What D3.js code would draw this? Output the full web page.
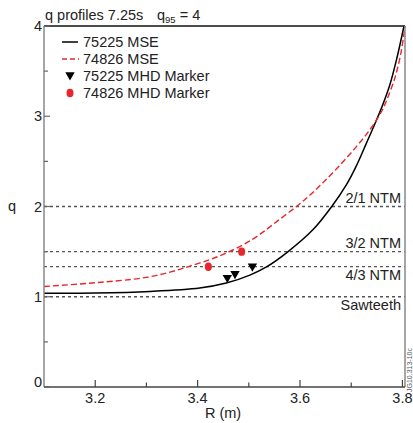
<!DOCTYPE html>
<html><head><meta charset="utf-8">
<script src="https://cdn.jsdelivr.net/npm/d3@7"></script>
<style>body{margin:0;background:#fff;} text{font-family:"Liberation Sans",Arial,sans-serif;fill:#222;}</style>
</head><body><svg id="c" width="413" height="423"></svg>
<script>
// ---- data ----
const r75225 = [3.10,3.20,3.307,3.404,3.456,3.502,3.5345,3.5767,3.6255,3.6613,3.691,3.71,3.728,3.745,3.759,3.775,3.789,3.803];
const q75225 = [1.04,1.042,1.059,1.097,1.152,1.24,1.33,1.50,1.744,1.995,2.245,2.45,2.68,2.90,3.09,3.34,3.64,4.0];
const r74826 = [3.10,3.20,3.30,3.36,3.385,3.421,3.45,3.486,3.52,3.555,3.593,3.62,3.645,3.675,3.708,3.735,3.759,3.77,3.785,3.797,3.805];
const q74826 = [1.114,1.155,1.215,1.295,1.34,1.405,1.47,1.567,1.685,1.835,2.0,2.13,2.265,2.44,2.65,2.84,3.05,3.19,3.42,3.70,4.0];
const mhdR75225 = [3.458,3.473,3.507];
const mhdQ75225 = [1.20,1.244,1.326];
const mhdR74826 = [3.421,3.486];
const mhdQ74826 = [1.333,1.50];
const refQ = [2.0,1.5,4/3,1.0];
const refLabels = ["2/1 NTM","3/2 NTM","4/3 NTM","Sawteeth"];
const refLabelAbove = [true,true,false,false];
const xTicks = [3.2,3.4,3.6,3.8];
const xMinor = [3.3,3.5,3.7];
const yTicks = [0,1,2,3,4];
const yMinor = [0.5,1.5,2.5,3.5];
const legendLabels = ["75225 MSE","74826 MSE","75225 MHD Marker","74826 MHD Marker"];

// ---- layout ----
const L=44,Rt=405,T=26,B=387;
const FS=14.5;
const RED="#e8262b";
const svg=d3.select("#c");
const x=d3.scaleLinear().domain([3.1,3.805]).range([L,Rt]);
const y=d3.scaleLinear().domain([0,4]).range([B,T]);

// reference lines
refQ.forEach((q,i)=>{
  svg.append("line").attr("x1",L).attr("x2",Rt).attr("y1",y(q)).attr("y2",y(q))
    .attr("stroke","#555").attr("stroke-width",1.3).attr("stroke-dasharray","3,3");
  svg.append("text").attr("x",401).attr("y",refLabelAbove[i]?y(q)-4:y(q)+13.5)
    .attr("text-anchor","end").attr("font-size",FS).text(refLabels[i]);
});

const line=d3.line().x(d=>x(d[0])).y(d=>y(d[1])).curve(d3.curveCatmullRom.alpha(0.5));
svg.append("path").datum(d3.zip(r75225,q75225)).attr("d",line)
  .attr("fill","none").attr("stroke","#000").attr("stroke-width",1.5);
svg.append("path").datum(d3.zip(r74826,q74826)).attr("d",line)
  .attr("fill","none").attr("stroke",RED).attr("stroke-width",1.4).attr("stroke-dasharray","6,3");

const tri=d3.symbol().type(d3.symbolTriangle).size(38);
d3.zip(mhdR75225,mhdQ75225).forEach(d=>{
  svg.append("path").attr("d",tri).attr("transform",`translate(${x(d[0])},${y(d[1])-1}) rotate(180)`).attr("fill","#000");
});
d3.zip(mhdR74826,mhdQ74826).forEach(d=>{
  svg.append("ellipse").attr("cx",x(d[0])).attr("cy",y(d[1])).attr("rx",3.5).attr("ry",4.2).attr("fill",RED);
});

// axes frame
svg.append("line").attr("x1",L).attr("x2",Rt).attr("y1",T).attr("y2",T).attr("stroke","#111").attr("stroke-width",1.5);
svg.append("line").attr("x1",Rt).attr("x2",Rt).attr("y1",T).attr("y2",B).attr("stroke","#888").attr("stroke-width",1.5);
svg.append("line").attr("x1",L).attr("x2",L).attr("y1",T).attr("y2",B).attr("stroke","#888").attr("stroke-width",1.5);
svg.append("line").attr("x1",L).attr("x2",Rt).attr("y1",B).attr("y2",B).attr("stroke","#444").attr("stroke-width",1.5);

// y ticks
yTicks.forEach(v=>{
  svg.append("line").attr("x1",L).attr("x2",L+6).attr("y1",y(v)).attr("y2",y(v)).attr("stroke","#666").attr("stroke-width",1.2);
  svg.append("text").attr("x",42).attr("y",y(v)+(v===0?0:5)).attr("text-anchor","end").attr("font-size",FS).text(v);
});
yMinor.forEach(v=>{
  svg.append("line").attr("x1",L).attr("x2",L+4).attr("y1",y(v)).attr("y2",y(v)).attr("stroke","#666").attr("stroke-width",1.2);
});
xTicks.forEach(v=>{
  svg.append("line").attr("x1",x(v)).attr("x2",x(v)).attr("y1",B).attr("y2",B-7).attr("stroke","#444").attr("stroke-width",1.2);
  svg.append("text").attr("x",x(v)).attr("y",403).attr("text-anchor","middle").attr("font-size",FS).text(d3.format(".1f")(v));
});
xMinor.forEach(v=>{
  svg.append("line").attr("x1",x(v)).attr("x2",x(v)).attr("y1",B).attr("y2",B-4.5).attr("stroke","#444").attr("stroke-width",1.2);
});
svg.append("text").attr("x",223).attr("y",418).attr("text-anchor","middle").attr("font-size",FS).text("R (m)");
svg.append("text").attr("x",12).attr("y",211).attr("text-anchor","middle").attr("font-size",FS).text("q");

// title
svg.append("text").attr("x",45).attr("y",20).attr("font-size",FS).text("q profiles 7.25s");
const t=svg.append("text").attr("x",157).attr("y",20).attr("font-size",FS);
t.append("tspan").text("q");
t.append("tspan").attr("font-size",9.5).attr("dy",3).text("95");
t.append("tspan").attr("dy",-3).text(" = 4");

// legend
const ly=[42,59,76,93];
svg.append("line").attr("x1",62).attr("x2",78).attr("y1",ly[0]).attr("y2",ly[0]).attr("stroke","#000").attr("stroke-width",1.5);
svg.append("line").attr("x1",62).attr("x2",79).attr("y1",ly[1]).attr("y2",ly[1]).attr("stroke",RED).attr("stroke-width",1.4).attr("stroke-dasharray","5,3");
svg.append("path").attr("d",tri).attr("transform",`translate(70,${ly[2]-1}) rotate(180)`).attr("fill","#000");
svg.append("ellipse").attr("cx",70).attr("cy",ly[3]).attr("rx",3.5).attr("ry",4.2).attr("fill",RED);
legendLabels.forEach((s,i)=>{
  svg.append("text").attr("x",83).attr("y",ly[i]+5).attr("font-size",FS).text(s);
});

// figure id
svg.append("text").attr("transform","translate(412,392) rotate(-90)").attr("font-size",7).style("fill","#555").text("JG10.313-10c");
</script></body></html>
